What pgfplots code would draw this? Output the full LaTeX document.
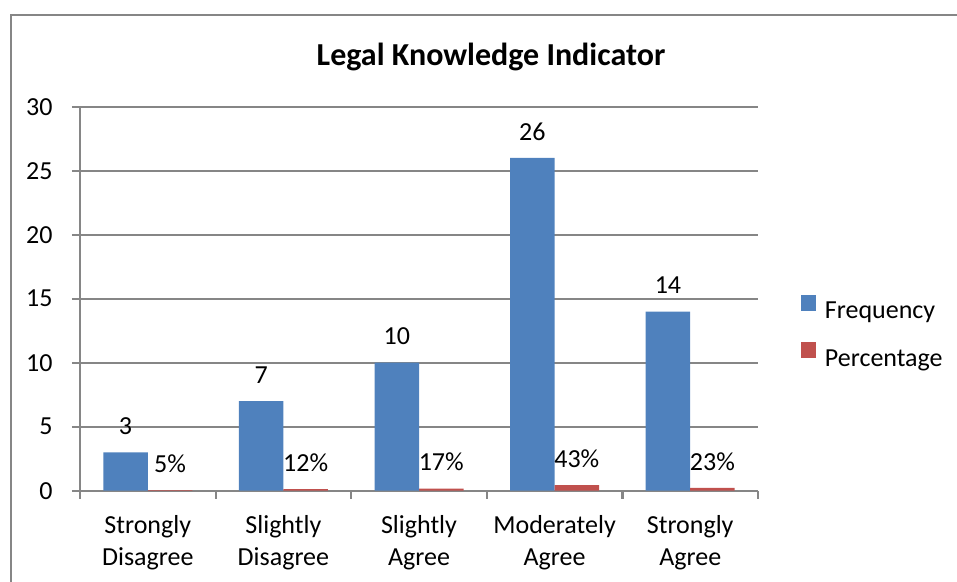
\documentclass[border=0pt]{standalone}
\usepackage{fontspec}
\setmainfont{Carlito}
\usepackage{pgfplots}
\pgfplotsset{compat=1.18}
\definecolor{fblue}{HTML}{4F81BD}
\definecolor{pred}{HTML}{C0504D}
\definecolor{axgray}{HTML}{868686}
\begin{document}
\begin{tikzpicture}[x=1pt,y=1pt]
\path[use as bounding box] (-80,-90.3) rectangle (877,490.7);
\draw[axgray,line width=2pt] (-69,-95) -- (-69,475.7) -- (885,475.7);
\node[font=\bfseries\fontsize{32}{38}\selectfont] at (411,433.7) {Legal Knowledge Indicator};
\begin{axis}[at={(0,0)}, anchor=south west, scale only axis,
  width=678pt, height=384pt,
  ymin=0, ymax=30, ytick={0,5,...,30},
  xmin=-0.5, xmax=4.5,
  ybar=0pt, bar width=44.5pt,
  axis lines=left, axis line style={-, axgray, line width=2.2pt},
  ymajorgrids, grid style={axgray, line width=2.2pt},
  xtick={0,...,4},
  xticklabels={{Strongly\\Disagree},{Slightly\\Disagree},{Slightly\\Agree},{Moderately\\Agree},{Strongly\\Agree}},
  major x tick style={draw=none},
  minor xtick={-0.5,0.5,1.5,2.5,3.5,4.5},
  tick align=outside, major tick length=8pt, minor tick length=8pt,
  tick style={axgray, line width=2.2pt},
  x tick label style={font=\fontsize{26}{32.5}\selectfont, align=center, yshift=-13pt},
  y tick label style={font=\fontsize{26}{32}\selectfont, xshift=-16pt},
  /pgf/number format/assume math mode=true,
  every node near coord/.append style={font=\fontsize{26}{32}\selectfont, black, yshift=14pt},
  legend style={at={(1.063,0.412)}, anchor=west, draw=none, fill=none,
    font=\fontsize{26}{32}\selectfont, row sep=20pt, inner sep=0pt,
    /tikz/every odd column/.append style={column sep=7pt}},
  legend cell align=left,
  legend image code/.code={\fill[#1] (0pt,0.5pt) rectangle (15pt,16pt);},
  clip=false,
]
\addplot[fill=fblue, draw=none, nodes near coords] coordinates {(0,3) (1,7) (2,10) (3,26) (4,14)};
\addplot[fill=pred, draw=none, point meta=explicit symbolic, nodes near coords] coordinates {(0,0.05)[5\%] (1,0.12)[12\%] (2,0.17)[17\%] (3,0.43)[43\%] (4,0.23)[23\%]};
\legend{Frequency, Percentage}
\end{axis}
\end{tikzpicture}
\end{document}
